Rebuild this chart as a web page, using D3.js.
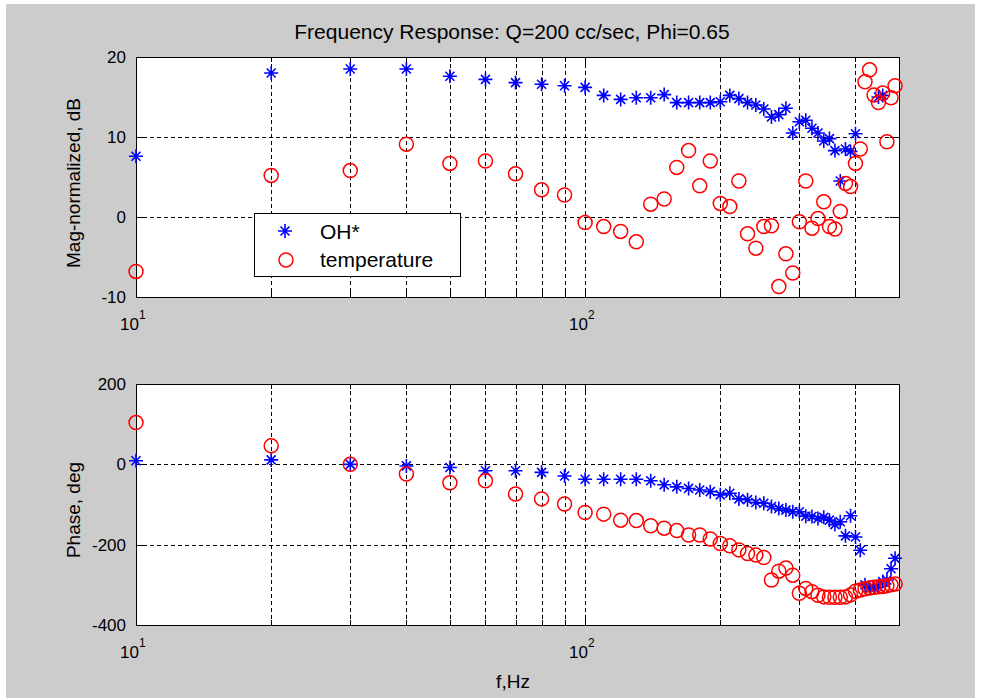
<!DOCTYPE html>
<html>
<head>
<meta charset="utf-8">
<script src="https://cdn.jsdelivr.net/npm/d3@7"></script>
<style>
    body { margin: 0; background: #fff; }
    text { font-family: "Liberation Sans", Arial, sans-serif; fill: #000; }
</style>
</head>
<body>
<svg id="chart" width="981" height="698"></svg>
<script>
// Frequencies, Hz
const freqs = [10, 20, 30, 40, 50, 60, 70, 80, 90, 100,
    110, 120, 130, 140, 150, 160, 170, 180, 190, 200,
    210, 220, 230, 240, 250, 260, 270, 280, 290, 300,
    310, 320, 330, 340, 350, 360, 370, 380, 390, 400,
    410, 420, 430, 440, 450, 460, 470, 480, 490];

// Magnitude, dB (null = off the plot)
const ohMag = [7.6, 18.0, 18.5, 18.5, 17.6, 17.2, 16.8, 16.6, 16.4, 16.2,
    15.2, 14.7, 14.9, 14.9, 15.3, 14.3, 14.3, 14.3, 14.3, 14.4,
    15.2, 14.8, 14.3, 14.0, 13.5, 12.5, 12.8, 13.6, 10.5, 11.9,
    12.1, 11.1, 10.5, 9.5, 9.8, 8.3, 4.5, 8.5, 8.2, 10.4,
    null, null, null, null, 15.0, 15.2, null, null, null];
const tempMag = [-6.8, 5.2, 5.8, 9.1, 6.7, 7.0, 5.4, 3.4, 2.75, -0.7,
    -1.2, -1.8, -3.1, 1.6, 2.25, 6.2, 8.3, 3.9, 7.0, 1.7,
    1.3, 4.5, -2.1, -3.9, -1.2, -1.1, -8.7, -4.6, -7.0, -0.6,
    4.5, -1.4, -0.2, 1.9, -1.2, -1.5, 0.7, 4.2, 3.8, 6.7,
    8.5, 16.9, 18.4, 15.25, 14.3, 15.5, 9.4, 14.9, 16.4];

// Phase, deg
const ohPhase = [9, 11, 0, -4, -8, -16, -16, -20, -29, -37,
    -37, -37, -37, -41, -51, -56, -60, -64, -68, -76,
    -72, -86, -88, -95, -97, -105, -110, -114, -118, -118,
    -129, -130, -135, -132, -139, -150, -143, -178, -128, -181,
    -214, -300, -308, -308, -305, -292, -288, -260, -234];
const tempPhase = [104, 46, 0, -24, -46, -41, -74, -86, -99, -120,
    -124, -139, -140, -153, -159, -165, -176, -176, -186, -197,
    -203, -213, -222, -226, -232, -288, -266, -258, -276, -321,
    -309, -317, -326, -330, -331, -331, -331, -330, -325, -316,
    -313, -310, -308, -306, -305, -304, -302, -300, -298];

const xGrid = [20, 30, 40, 50, 60, 70, 80, 90, 100, 200, 300, 400];
const xMinorTicks = [20, 30, 40, 50, 60, 70, 80, 90, 200, 300, 400];
const xMajorTicks = [10, 100];
const xTickExp = ['1', '2'];

const magTicks = [20, 10, 0, -10];
const magGrid = [10, 0];
const phaseTicks = [200, 0, -200, -400];
const phaseGrid = [0, -200];

const title = 'Frequency Response: Q=200 cc/sec, Phi=0.65';
const seriesNames = ['OH*', 'temperature'];

const svg = d3.select('#chart');

// figure background
svg.append('rect')
    .attr('x', 6).attr('y', 4)
    .attr('width', 969).attr('height', 694)
    .attr('fill', '#cccccc');

const x = d3.scaleLog().domain([10, 500]).range([136, 899]);

const starPath = 'M-7,0H7M0,-7V7M-4.5,-4.5L4.5,4.5M-4.5,4.5L4.5,-4.5';

function drawPanel(y, top, bottom, yTicks, yGrid, ohVals, tempVals, tickLabelY) {
    const g = svg.append('g');
    const left = x.range()[0], right = x.range()[1];

    g.append('rect')
        .attr('x', left).attr('y', top)
        .attr('width', right - left).attr('height', bottom - top)
        .attr('fill', '#fff');

    // dashed grid
    g.selectAll('.vgrid')
        .data(xGrid)
        .enter()
        .append('line')
        .attr('x1', d => Math.round(x(d)) + 0.5)
        .attr('x2', d => Math.round(x(d)) + 0.5)
        .attr('y1', top).attr('y2', bottom)
        .attr('stroke', '#000')
        .attr('stroke-dasharray', '4,3');

    g.selectAll('.hgrid')
        .data(yGrid)
        .enter()
        .append('line')
        .attr('x1', left).attr('x2', right)
        .attr('y1', d => Math.round(y(d)) + 0.5)
        .attr('y2', d => Math.round(y(d)) + 0.5)
        .attr('stroke', '#000')
        .attr('stroke-dasharray', '4,3');

    // ticks, pointing inward on all four sides
    const ticks = [];
    xMajorTicks.forEach(d => ticks.push({ x: x(d), len: 9 }));
    xMinorTicks.forEach(d => ticks.push({ x: x(d), len: 5 }));
    ticks.forEach(t => {
        const px = Math.round(t.x) + 0.5;
        g.append('line').attr('x1', px).attr('x2', px)
            .attr('y1', bottom).attr('y2', bottom - t.len).attr('stroke', '#000');
        g.append('line').attr('x1', px).attr('x2', px)
            .attr('y1', top).attr('y2', top + t.len).attr('stroke', '#000');
    });
    yTicks.forEach(d => {
        const py = Math.round(y(d)) + 0.5;
        g.append('line').attr('x1', left).attr('x2', left + 9)
            .attr('y1', py).attr('y2', py).attr('stroke', '#000');
        g.append('line').attr('x1', right).attr('x2', right - 9)
            .attr('y1', py).attr('y2', py).attr('stroke', '#000');
    });

    g.append('rect')
        .attr('x', left + 0.5).attr('y', top + 0.5)
        .attr('width', right - left).attr('height', bottom - top)
        .attr('fill', 'none')
        .attr('stroke', '#000');

    // tick labels
    g.selectAll('.ylabel')
        .data(yTicks)
        .enter()
        .append('text')
        .attr('x', left - 10)
        .attr('y', d => y(d) + 6)
        .attr('text-anchor', 'end')
        .style('font-size', '17px')
        .text(d => d);

    const xl = g.selectAll('.xlabel')
        .data(xMajorTicks)
        .enter()
        .append('text')
        .attr('x', d => x(d) - 16)
        .attr('y', tickLabelY)
        .style('font-size', '17px');
    xl.append('tspan').text('10');
    xl.append('tspan')
        .attr('dy', -11)
        .style('font-size', '12px')
        .text((d, i) => xTickExp[i]);

    // OH* stars
    const ohPts = freqs.map((f, i) => ({ f, v: ohVals[i] })).filter(d => d.v !== null);
    g.selectAll('.star')
        .data(ohPts)
        .enter()
        .append('path')
        .attr('d', starPath)
        .attr('transform', d => `translate(${x(d.f)},${y(d.v)})`)
        .attr('fill', 'none')
        .attr('stroke', '#0000ff')
        .attr('stroke-width', 1.6);

    // temperature circles
    const tPts = freqs.map((f, i) => ({ f, v: tempVals[i] })).filter(d => d.v !== null);
    g.selectAll('.circ')
        .data(tPts)
        .enter()
        .append('circle')
        .attr('cx', d => x(d.f))
        .attr('cy', d => y(d.v))
        .attr('r', 7)
        .attr('fill', 'none')
        .attr('stroke', '#ff0000')
        .attr('stroke-width', 1.5);

    return g;
}

const yMag = d3.scaleLinear().domain([-10, 20]).range([297, 57]);
const yPhase = d3.scaleLinear().domain([-400, 200]).range([625, 384]);

drawPanel(yMag, 57, 297, magTicks, magGrid, ohMag, tempMag, 330);
drawPanel(yPhase, 384, 625, phaseTicks, phaseGrid, ohPhase, tempPhase, 658);

// title and axis titles
svg.append('text')
    .attr('x', 512).attr('y', 39)
    .attr('text-anchor', 'middle')
    .style('font-size', '21px')
    .text(title);

svg.append('text')
    .attr('transform', 'translate(80,183) rotate(-90)')
    .attr('text-anchor', 'middle')
    .style('font-size', '19px')
    .text('Mag-normalized, dB');

svg.append('text')
    .attr('transform', 'translate(80,510) rotate(-90)')
    .attr('text-anchor', 'middle')
    .style('font-size', '19px')
    .text('Phase, deg');

svg.append('text')
    .attr('x', 513).attr('y', 688)
    .attr('text-anchor', 'middle')
    .style('font-size', '19px')
    .text('f,Hz');

// legend
const legend = svg.append('g');
legend.append('rect')
    .attr('x', 254.5).attr('y', 213.5)
    .attr('width', 206).attr('height', 63)
    .attr('fill', '#fff')
    .attr('stroke', '#000');
legend.append('path')
    .attr('d', starPath)
    .attr('transform', 'translate(285,231)')
    .attr('fill', 'none')
    .attr('stroke', '#0000ff')
    .attr('stroke-width', 1.6);
legend.append('circle')
    .attr('cx', 286).attr('cy', 260).attr('r', 7)
    .attr('fill', 'none')
    .attr('stroke', '#ff0000')
    .attr('stroke-width', 1.5);
legend.selectAll('.ltext')
    .data(seriesNames)
    .enter()
    .append('text')
    .attr('x', 320)
    .attr('y', (d, i) => 239 + i * 28)
    .style('font-size', '21px')
    .text(d => d);
</script>
</body>
</html>
